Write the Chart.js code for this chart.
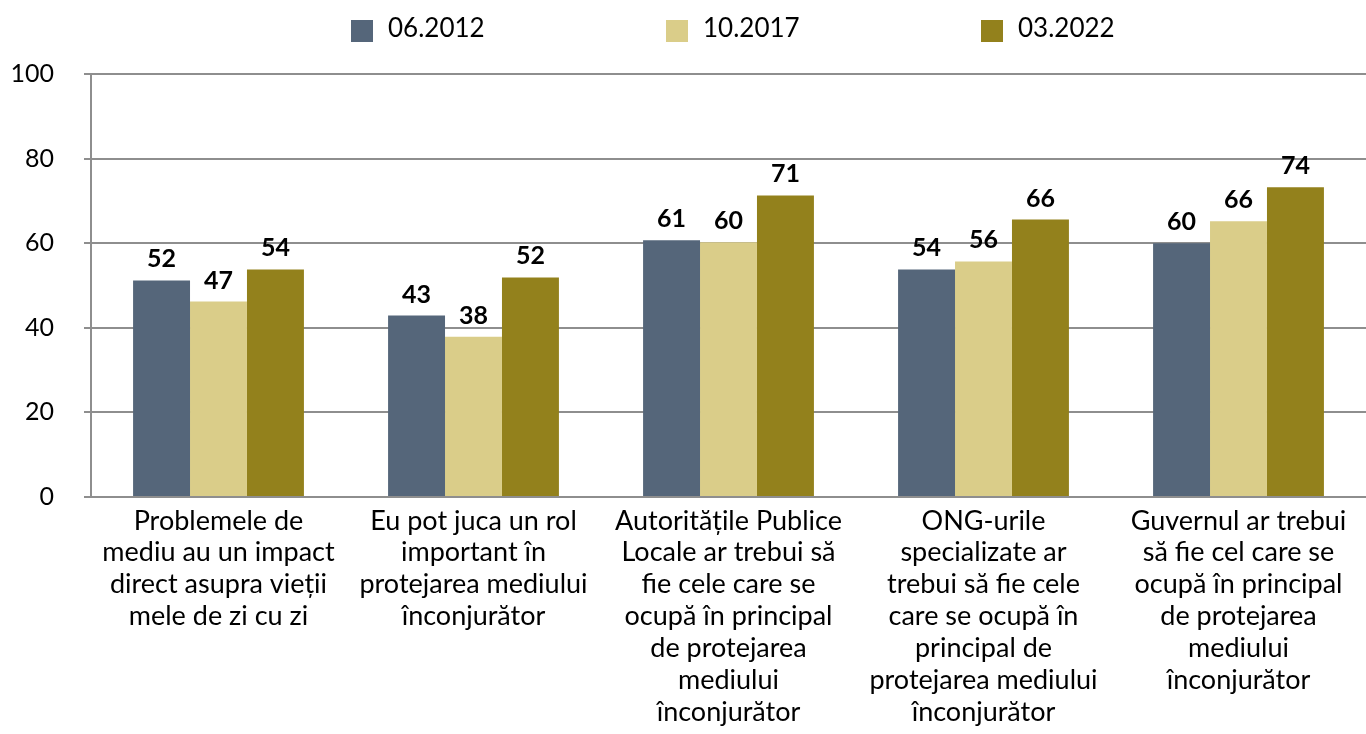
<!DOCTYPE html>
<html>
<head>
<meta charset="utf-8">
<script src="https://cdn.jsdelivr.net/npm/chart.js@4"></script>
<style>
  html, body { margin: 0; padding: 0; background: #fff; }
  canvas { display: block; }
</style>
</head>
<body>
<canvas id="chart" width="1366" height="734"></canvas>
<script>
const categories = [
    ["Problemele de", "mediu au un impact", "direct asupra vieții", "mele de zi cu zi"],
    ["Eu pot juca un rol", "important în", "protejarea mediului", "înconjurător"],
    ["Autoritățile Publice", "Locale ar trebui să", "fie cele care se", "ocupă în principal", "de protejarea", "mediului", "înconjurător"],
    ["ONG-urile", "specializate ar", "trebui să fie cele", "care se ocupă în", "principal de", "protejarea mediului", "înconjurător"],
    ["Guvernul ar trebui", "să fie cel care se", "ocupă în principal", "de protejarea", "mediului", "înconjurător"]
];
const seriesNames = ["06.2012", "10.2017", "03.2022"];
const values2012 = [51.2, 42.9, 60.7, 53.8, 60.0];
const values2017 = [46.2, 37.9, 60.2, 55.7, 65.2];
const values2022 = [53.8, 51.9, 71.3, 65.6, 73.2];
const labels2012 = [52, 43, 61, 54, 60];
const labels2017 = [47, 38, 60, 56, 66];
const labels2022 = [54, 52, 71, 66, 74];
const yTicks = [0, 20, 40, 60, 80, 100];

const colors = ["#55667a", "#dacd89", "#93811c"];
const font = "Lato, 'Open Sans', sans-serif";

// value labels over the bars
const valueLabels = {
    id: "valueLabels",
    afterDatasetsDraw(chart) {
        const ctx = chart.ctx;
        const shown = [labels2012, labels2017, labels2022];
        ctx.save();
        ctx.font = "bold 25px " + font;
        ctx.fillStyle = "#000";
        ctx.textAlign = "center";
        ctx.textBaseline = "alphabetic";
        chart.data.datasets.forEach((ds, i) => {
            chart.getDatasetMeta(i).data.forEach((bar, j) => {
                ctx.fillText(shown[i][j], bar.x, bar.y - 13);
            });
        });
        ctx.restore();
    }
};

// legend drawn by hand so the items can sit far apart
const topLegend = {
    id: "topLegend",
    afterDraw(chart) {
        const ctx = chart.ctx;
        const startX = 351, step = 315;
        ctx.save();
        ctx.font = "26px " + font;
        ctx.textBaseline = "middle";
        ctx.textAlign = "left";
        chart.data.datasets.forEach((ds, i) => {
            const x = startX + i * step;
            ctx.fillStyle = ds.backgroundColor;
            ctx.fillRect(x, 20, 22, 22);
            ctx.fillStyle = "#000";
            ctx.fillText(ds.label, x + 37, 29);
        });
        ctx.restore();
    }
};

new Chart(document.getElementById("chart"), {
    type: "bar",
    data: {
        labels: categories,
        datasets: [
            { label: seriesNames[0], data: values2012, backgroundColor: colors[0] },
            { label: seriesNames[1], data: values2017, backgroundColor: colors[1] },
            { label: seriesNames[2], data: values2022, backgroundColor: colors[2] }
        ]
    },
    options: {
        responsive: false,
        animation: false,
        layout: { padding: { left: 0, right: 0, top: 74, bottom: 6 } },
        datasets: { bar: { categoryPercentage: 0.67, barPercentage: 1.0 } },
        plugins: {
            tooltip: { enabled: false },
            legend: { display: false }
        },
        scales: {
            x: {
                grid: { display: false },
                border: { color: "#8e8e8e", width: 2 },
                ticks: {
                    autoSkip: false,
                    maxRotation: 0,
                    color: "#000",
                    padding: 0,
                    font: { family: font, size: 27, lineHeight: 1.18 }
                }
            },
            y: {
                min: 0,
                max: 100,
                afterBuildTicks(axis) {
                    axis.ticks = yTicks.map(v => ({ value: v }));
                },
                afterFit(axis) {
                    axis.width = 91;
                },
                grid: { color: "#8e8e8e", lineWidth: 2, tickLength: 7 },
                border: { color: "#8e8e8e", width: 2 },
                ticks: {
                    color: "#000",
                    padding: 30,
                    font: { family: font, size: 25 }
                }
            }
        }
    },
    plugins: [valueLabels, topLegend]
});
</script>
</body>
</html>
